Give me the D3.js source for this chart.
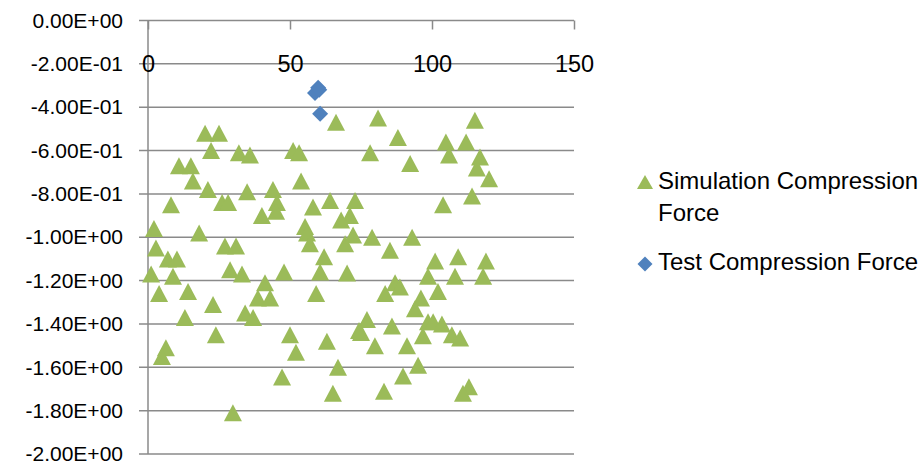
<!DOCTYPE html>
<html>
<head>
<meta charset="utf-8">
<script src="https://cdn.jsdelivr.net/npm/d3@7"></script>
<style>
  html, body { margin: 0; padding: 0; background: #fff; }
  svg { display: block; font-family: "Liberation Sans", Arial, sans-serif; }
</style>
</head>
<body>
<svg id="chart" width="924" height="466"></svg>
<script>
// ---- data ----
const seriesNames = ["Simulation Compression Force", "Test Compression Force"];

const simX = [
  2.1, 2.8, 7.0, 10.2, 8.1, 10.9, 15.1, 15.8, 20.1, 25.0, 22.2, 32.0, 35.9, 21.1, 26.1, 28.2, 34.9, 44.0, 45.4, 40.1, 45.1, 18.0, 27.1, 31.0,
  51.1, 53.2, 53.9, 66.2, 81.0, 88.0, 78.2, 92.3, 64.1, 58.1, 72.9, 71.1, 68.0, 55.3, 56.0, 57.0, 69.4, 72.2, 78.9, 85.2, 93.0, 62.0,
  115.1, 104.9, 112.0, 106.0, 116.9, 115.8, 120.1, 114.1, 103.9, 101.1, 109.2, 119.0,
  1.1, 8.8, 3.9, 14.1, 13.0, 22.9, 23.9, 6.3, 4.9, 28.9, 33.1, 41.2, 38.7, 43.0, 34.2, 37.0, 47.9, 29.9, 47.2, 50.0, 52.1,
  60.6, 70.1, 59.2, 87.0, 88.7, 83.5, 96.1, 94.0, 77.1, 75.0, 74.3, 79.9, 85.9, 91.2, 96.8, 98.6, 98.6, 63.0, 66.9, 65.1, 89.8, 95.1, 83.1,
  108.1, 118.0, 102.1, 100.4, 103.5, 107.0, 109.9, 113.0, 110.9
];
const simY = [
  -0.96, -1.05, -1.10, -1.10, -0.85, -0.67, -0.67, -0.74, -0.52, -0.52, -0.60, -0.61, -0.62, -0.78, -0.84, -0.84, -0.79, -0.78, -0.84, -0.90, -0.88, -0.98, -1.04, -1.04,
  -0.60, -0.61, -0.74, -0.47, -0.45, -0.54, -0.61, -0.66, -0.83, -0.86, -0.83, -0.90, -0.92, -0.95, -0.98, -1.03, -1.03, -0.99, -1.00, -1.06, -1.00, -1.09,
  -0.46, -0.56, -0.56, -0.62, -0.63, -0.68, -0.73, -0.81, -0.85, -1.11, -1.09, -1.11,
  -1.17, -1.18, -1.26, -1.25, -1.37, -1.31, -1.45, -1.51, -1.55, -1.15, -1.17, -1.21, -1.28, -1.28, -1.35, -1.37, -1.16, -1.81, -1.645, -1.45, -1.53,
  -1.16, -1.165, -1.26, -1.21, -1.23, -1.26, -1.28, -1.33, -1.38, -1.44, -1.43, -1.50, -1.41, -1.50, -1.455, -1.39, -1.18, -1.48, -1.60, -1.72, -1.64, -1.59, -1.71,
  -1.18, -1.18, -1.25, -1.39, -1.40, -1.45, -1.465, -1.69, -1.72
];

const testX = [59.9, 58.8, 60.3, 60.6];
const testY = [-0.31, -0.335, -0.32, -0.43];

const xTicks = [0, 50, 100, 150];
const yTicks = [0, -0.2, -0.4, -0.6, -0.8, -1.0, -1.2, -1.4, -1.6, -1.8, -2.0];
const yTickLabels = ["0.00E+00", "-2.00E-01", "-4.00E-01", "-6.00E-01", "-8.00E-01", "-1.00E+00",
                     "-1.20E+00", "-1.40E+00", "-1.60E+00", "-1.80E+00", "-2.00E+00"];

// ---- layout ----
const svg = d3.select("#chart");
svg.append("rect").attr("width", 924).attr("height", 466).attr("fill", "#fff");

const x = d3.scaleLinear().domain([0, 150]).range([148, 574]);
const y = d3.scaleLinear().domain([-2, 0]).range([454, 20.5]);

const gridColor = "#8a8a8a";
const simColor = "#9BBB59";
const testColor = "#4F81BD";

// gridlines (including top axis line at 0)
svg.append("g").selectAll("line").data(yTicks).join("line")
  .attr("x1", 139).attr("x2", x(150))
  .attr("y1", d => y(d)).attr("y2", d => y(d))
  .attr("stroke", gridColor).attr("stroke-width", 1.5);

// left axis line
svg.append("line").attr("x1", x(0)).attr("x2", x(0))
  .attr("y1", y(0)).attr("y2", y(-2))
  .attr("stroke", gridColor).attr("stroke-width", 1.5);

// x axis (drawn at y=0 line, ticks pointing down)
const xAxis = d3.axisBottom(x).tickValues(xTicks).tickSizeInner(9).tickSizeOuter(0).tickFormat(d3.format("d"));
const gx = svg.append("g").attr("transform", `translate(0,${y(0)})`).call(xAxis);
gx.select(".domain").remove();
gx.selectAll(".tick line").attr("stroke", gridColor).attr("stroke-width", 1.5);
gx.selectAll(".tick text")
  .attr("y", 43).attr("dy", "0.36em")
  .attr("font-size", 23.5).attr("fill", "#000")
  .attr("font-family", "Liberation Sans, Arial, sans-serif");

// y axis labels
const yAxis = d3.axisLeft(y).tickValues(yTicks).tickSize(0).tickPadding(25)
  .tickFormat((d, i) => yTickLabels[i]);
const gy = svg.append("g").attr("transform", `translate(${x(0)},0)`).call(yAxis);
gy.select(".domain").remove();
gy.selectAll(".tick text")
  .attr("font-size", 21).attr("fill", "#000")
  .attr("font-family", "Liberation Sans, Arial, sans-serif");

// markers
function triPath(w, h) {
  return `M0,${-h / 2}L${w / 2},${h / 2}L${-w / 2},${h / 2}Z`;
}
function diaPath(s) {
  const r = s / 2;
  return `M0,${-r}L${r},0L0,${r}L${-r},0Z`;
}

const simData = simX.map((v, i) => ({ x: v, y: simY[i] }));
const testData = testX.map((v, i) => ({ x: v, y: testY[i] }));

svg.append("g").selectAll("path").data(simData).join("path")
  .attr("d", triPath(18, 17))
  .attr("transform", d => `translate(${x(d.x)},${y(d.y)})`)
  .attr("fill", simColor);

svg.append("g").selectAll("path").data(testData).join("path")
  .attr("d", diaPath(16))
  .attr("transform", d => `translate(${x(d.x)},${y(d.y)})`)
  .attr("fill", testColor);

// legend
const lg = svg.append("g").attr("font-size", 24).attr("fill", "#000");
lg.append("path").attr("d", triPath(16, 14)).attr("transform", "translate(645,182)").attr("fill", simColor);
lg.append("text").attr("x", 658).attr("y", 189).text("Simulation Compression");
lg.append("text").attr("x", 658).attr("y", 221).text("Force");
lg.append("path").attr("d", diaPath(15)).attr("transform", "translate(645,264)").attr("fill", testColor);
lg.append("text").attr("x", 658).attr("y", 270).text("Test Compression Force");
</script>
</body>
</html>
